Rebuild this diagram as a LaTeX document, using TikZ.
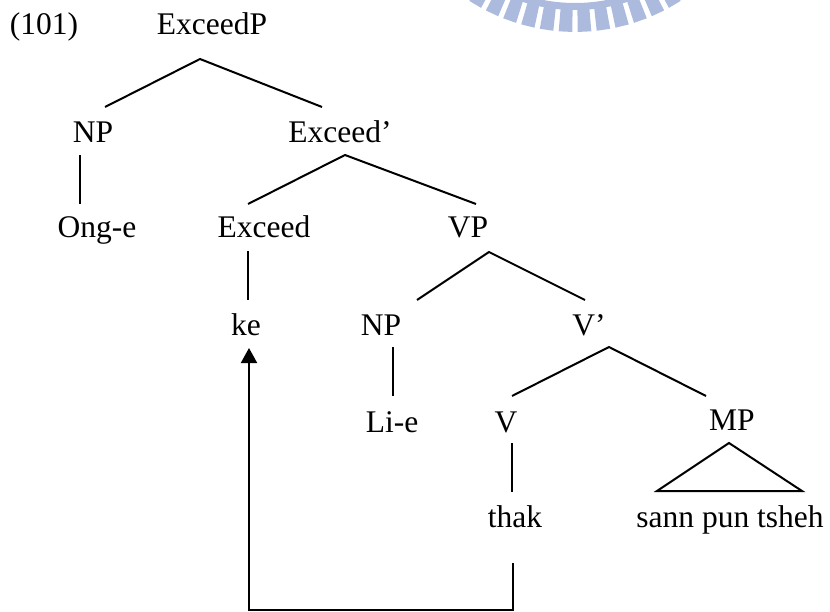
\documentclass[tikz,border=0pt]{standalone}
\usepackage{fontspec}
\setmainfont{Liberation Serif}
\usetikzlibrary{arrows.meta,calc}
\definecolor{wmblue}{RGB}{172,187,221}

\begin{document}
\begin{tikzpicture}[x=1pt,y=-1pt,
  lbl/.style={anchor=base,inner sep=0pt,font=\fontsize{31.5}{34}\selectfont},
  branch/.style={line width=2pt,line cap=butt},
  movearrow/.style={line width=2pt,-{Triangle[width=16pt,length=15pt]}}]
\useasboundingbox (0,0) rectangle (830,612);

% seal watermark: toothed ring, cut by the top edge
\begin{scope}
  \clip (0,0) rectangle (830,612);
  \begin{scope}[shift={(575,-163)}]
    \fill[wmblue,even odd rule] (0,0) circle[radius=173] (0,0) circle[radius=166];
    \foreach \k in {-8,...,7}{
      \pgfmathsetmacro\a{92.8+5.6*\k}
      \fill[wmblue] (\a-2:172) -- (\a-2:195) -- (\a+2:195) -- (\a+2:172) -- cycle;
    }
  \end{scope}
\end{scope}

% labels
\node[lbl] (ex)    at (44,35)   {(101)};
\node[lbl] (root)  at (212,35)  {ExceedP};
\node[lbl] (np1)   at (93,143)  {NP};
\node[lbl] (exbar) at (340,143) {Exceed’};
\node[lbl] (onge)  at (97,238)  {Ong-e};
\node[lbl] (exceed) at (264,238) {Exceed};
\node[lbl] (vp)    at (468,238) {VP};
\node[lbl] (ke)    at (246,335) {ke};
\node[lbl] (np2)   at (381,335) {NP};
\node[lbl] (vbar)  at (589,335) {V’};
\node[lbl] (lie)   at (392,432) {Li-e};
\node[lbl] (v)     at (506,432) {V};
\node[lbl] (mp)    at (732,430) {MP};
\node[lbl] (thak)  at (515,527) {thak};
\node[lbl] (sann)  at (730,527) {sann pun tsheh};

% branches
\draw[branch] ($(np1.base)+(12,-36)$) -- ($(root.base)+(-12,24)$) -- ($(exbar.base)+(-18,-36)$);
\draw[branch] ($(np1.base)+(-13,12)$) -- ($(onge.base)+(-17,-34)$);
\draw[branch] ($(exceed.base)+(-16,-34)$) -- ($(exbar.base)+(5,12)$) -- ($(vp.base)+(8,-34)$);
\draw[branch] ($(exceed.base)+(-16,13)$) -- ($(ke.base)+(2,-35)$);
\draw[branch] ($(np2.base)+(36,-35)$) -- ($(vp.base)+(21,14)$) -- ($(vbar.base)+(-4,-35)$);
\draw[branch] ($(np2.base)+(12,12)$) -- ($(lie.base)+(1,-36)$);
\draw[branch] ($(v.base)+(6,-36)$) -- ($(vbar.base)+(20,12)$) -- ($(mp.base)+(-26,-34)$);
\draw[branch] ($(v.base)+(6,11)$) -- ($(thak.base)+(-3,-35)$);
\draw[branch,line join=miter] ($(sann.base)+(-73,-36)$) -- ($(mp.base)+(-3,13)$) -- ($(sann.base)+(72,-36)$) -- cycle;

% movement arrow
\draw[movearrow] ($(thak.base)+(-2,36)$) -- ($(thak.base)+(-2,83)$) -| ($(ke.base)+(3,13)$);
\end{tikzpicture}
\end{document}
